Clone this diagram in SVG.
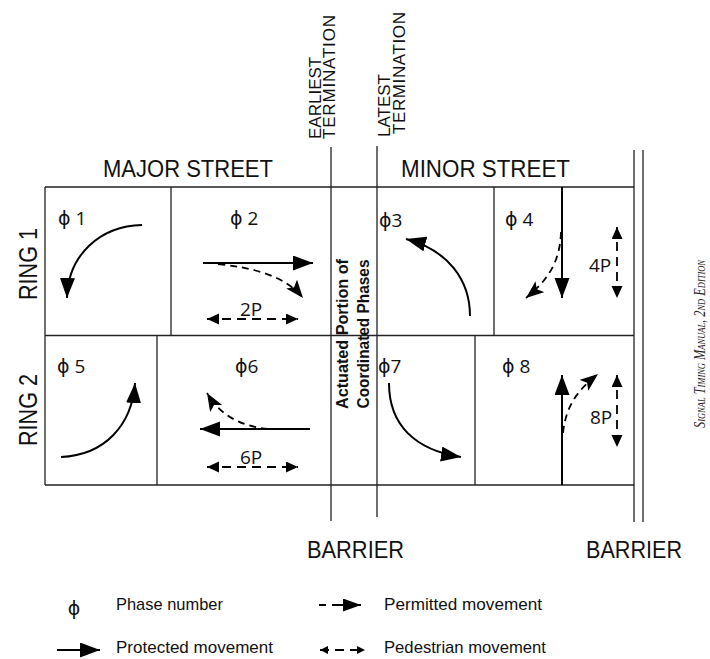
<svg xmlns="http://www.w3.org/2000/svg" width="710" height="659" viewBox="0 0 710 659">
<style>
.grid{stroke:#222;stroke-width:1.3;fill:none}
.prot{stroke:#000;stroke-width:2;fill:none}
.perm{stroke:#000;stroke-width:1.8;fill:none;stroke-dasharray:7 5}
.ped{stroke:#000;stroke-width:1.8;fill:none;stroke-dasharray:9 6}
.hd{font-family:"Liberation Sans",Arial,sans-serif;fill:#111}
.lb{font-family:"Open Sans","DejaVu Sans",sans-serif;fill:#111;font-size:19px}
.mid{font-family:"Liberation Sans",Arial,sans-serif;font-weight:bold;fill:#111;font-size:16px}
.lg{font-family:"Liberation Sans",Arial,sans-serif;fill:#111;font-size:17px}
.src{font-family:"Liberation Serif","Times New Roman",serif;font-style:italic;font-variant:small-caps;fill:#222;font-size:16px}
</style>
<defs>
<marker id="big" markerUnits="userSpaceOnUse" markerWidth="22" markerHeight="16" refX="20" refY="7.5" orient="auto"><path d="M0,0 L20,7.5 L0,15 z" fill="#000"/></marker>
<marker id="perm" markerUnits="userSpaceOnUse" markerWidth="20" markerHeight="16" refX="18" refY="7" orient="auto"><path d="M0,0 L18,7 L0,14 L4,7 z" fill="#000"/></marker>
<marker id="ped" markerUnits="userSpaceOnUse" markerWidth="14" markerHeight="12" refX="12" refY="5.5" orient="auto-start-reverse"><path d="M0,0 L12,5.5 L0,11 z" fill="#000"/></marker>
<marker id="lgp" markerUnits="userSpaceOnUse" markerWidth="20" markerHeight="16" refX="18" refY="6.5" orient="auto"><path d="M0,0 L18,6.5 L0,13 z" fill="#000"/></marker>
<marker id="lgped" markerUnits="userSpaceOnUse" markerWidth="10" markerHeight="10" refX="8" refY="4" orient="auto-start-reverse"><path d="M0,0 L8,4 L0,8 z" fill="#000"/></marker>
</defs>

<g id="headers">
<text class="hd" x="103" y="177" font-size="24" textLength="170" lengthAdjust="spacingAndGlyphs">MAJOR STREET</text>
<text class="hd" x="401" y="177" font-size="24" textLength="169" lengthAdjust="spacingAndGlyphs">MINOR STREET</text>
<text class="hd" font-size="17" transform="translate(321,139) rotate(-90)">EARLIEST</text>
<text class="hd" font-size="17" transform="translate(335,139) rotate(-90)" textLength="124">TERMINATION</text>
<text class="hd" font-size="17" transform="translate(390,137) rotate(-90)">LATEST</text>
<text class="hd" font-size="17" transform="translate(405,134) rotate(-90)" textLength="122">TERMINATION</text>
<text class="hd" font-size="25" text-anchor="middle" transform="translate(37,264) rotate(-90)" textLength="72" lengthAdjust="spacingAndGlyphs">RING 1</text>
<text class="hd" font-size="25" text-anchor="middle" transform="translate(37,410) rotate(-90)" textLength="72" lengthAdjust="spacingAndGlyphs">RING 2</text>
<text class="hd" x="307" y="558" font-size="24" textLength="97" lengthAdjust="spacingAndGlyphs">BARRIER</text>
<text class="hd" x="586" y="558" font-size="24" textLength="96" lengthAdjust="spacingAndGlyphs">BARRIER</text>
</g>

<g id="connectors">
<g id="grid">
<path class="grid" d="M45,187 H634 M45,335.5 H634 M45,485 H634 M45,187 V485"/>
<path class="grid" d="M171,187 V335.5 M494,187 V335.5 M157,335.5 V485 M475,335.5 V485"/>
<path class="grid" d="M331,147 V521 M377,146 V517 M634,150 V522 M643,150 V522"/>
</g>
<g id="arrows">
<path class="prot" marker-end="url(#big)" d="M142,225 C100,226 68,255 67,298"/>
<path class="prot" marker-end="url(#big)" d="M203,263 H313"/>
<path class="perm" marker-end="url(#perm)" d="M218,264 C255,268 285,276 303,298"/>
<path class="ped" marker-start="url(#ped)" marker-end="url(#ped)" d="M207,319 H298"/>
<path class="prot" marker-end="url(#big)" d="M470,316 C470,280 448,250 406,239"/>
<path class="prot" marker-end="url(#big)" d="M562,187 V298"/>
<path class="perm" marker-end="url(#perm)" d="M561,232 C560,262 548,280 526,298"/>
<path class="ped" marker-start="url(#ped)" marker-end="url(#ped)" d="M617,227 V298"/>
<path class="prot" marker-end="url(#big)" d="M61,457 C105,455 132,425 135,383"/>
<path class="prot" marker-end="url(#big)" d="M310,429 H200"/>
<path class="perm" marker-end="url(#perm)" d="M268,429 C240,426 220,415 207,393"/>
<path class="ped" marker-start="url(#ped)" marker-end="url(#ped)" d="M207,467 H298"/>
<path class="prot" marker-end="url(#big)" d="M389,383 C389,425 415,450 461,457"/>
<path class="prot" marker-end="url(#big)" d="M562,485 V375"/>
<path class="perm" marker-end="url(#perm)" d="M563,433 C566,405 578,390 598,374"/>
<path class="ped" marker-start="url(#ped)" marker-end="url(#ped)" d="M617,375 V447"/>
</g>
</g>

<g id="phase1"><text class="lb" x="58" y="225">ϕ 1</text></g>
<g id="phase2"><text class="lb" x="230" y="225">ϕ 2</text><text class="lb" x="240" y="316">2P</text></g>
<g id="barrier-zone">
<text class="mid" text-anchor="middle" transform="translate(348,334) rotate(-90)" textLength="150" lengthAdjust="spacingAndGlyphs">Actuated Portion of</text>
<text class="mid" text-anchor="middle" transform="translate(369,334) rotate(-90)" textLength="149" lengthAdjust="spacingAndGlyphs">Coordinated Phases</text>
</g>
<g id="phase3"><text class="lb" x="379" y="227">ϕ3</text></g>
<g id="phase4"><text class="lb" x="505" y="226">ϕ 4</text><text class="lb" x="589" y="272">4P</text></g>
<g id="phase5"><text class="lb" x="57" y="373">ϕ 5</text></g>
<g id="phase6"><text class="lb" x="235" y="373">ϕ6</text><text class="lb" x="240" y="464">6P</text></g>
<g id="phase7"><text class="lb" x="378" y="373">ϕ7</text></g>
<g id="phase8"><text class="lb" x="502" y="373">ϕ 8</text><text class="lb" x="590" y="424">8P</text></g>

<g id="legend">
<text class="lb" x="74" y="615" text-anchor="middle" font-size="20">ϕ</text>
<text class="lg" x="116" y="610" textLength="107" lengthAdjust="spacingAndGlyphs">Phase number</text>
<path class="prot" d="M319,605 H326"/>
<path class="prot" marker-end="url(#lgp)" d="M332,605 H361"/>
<text class="lg" x="384" y="610" textLength="158" lengthAdjust="spacingAndGlyphs">Permitted movement</text>
<path class="prot" stroke-width="2.5" marker-end="url(#big)" d="M57,650 H100"/>
<text class="lg" x="116" y="653" textLength="157" lengthAdjust="spacingAndGlyphs">Protected movement</text>
<path class="ped" stroke-width="1.5" stroke-dasharray="6 5" marker-start="url(#lgped)" marker-end="url(#lgped)" d="M320,650 H365"/>
<text class="lg" x="384" y="653" textLength="162" lengthAdjust="spacingAndGlyphs">Pedestrian movement</text>
</g>

<g id="source"><text class="src" transform="translate(705,428) rotate(-90)" textLength="168" lengthAdjust="spacingAndGlyphs">Signal Timing Manual, 2nd Edition</text></g>
</svg>
